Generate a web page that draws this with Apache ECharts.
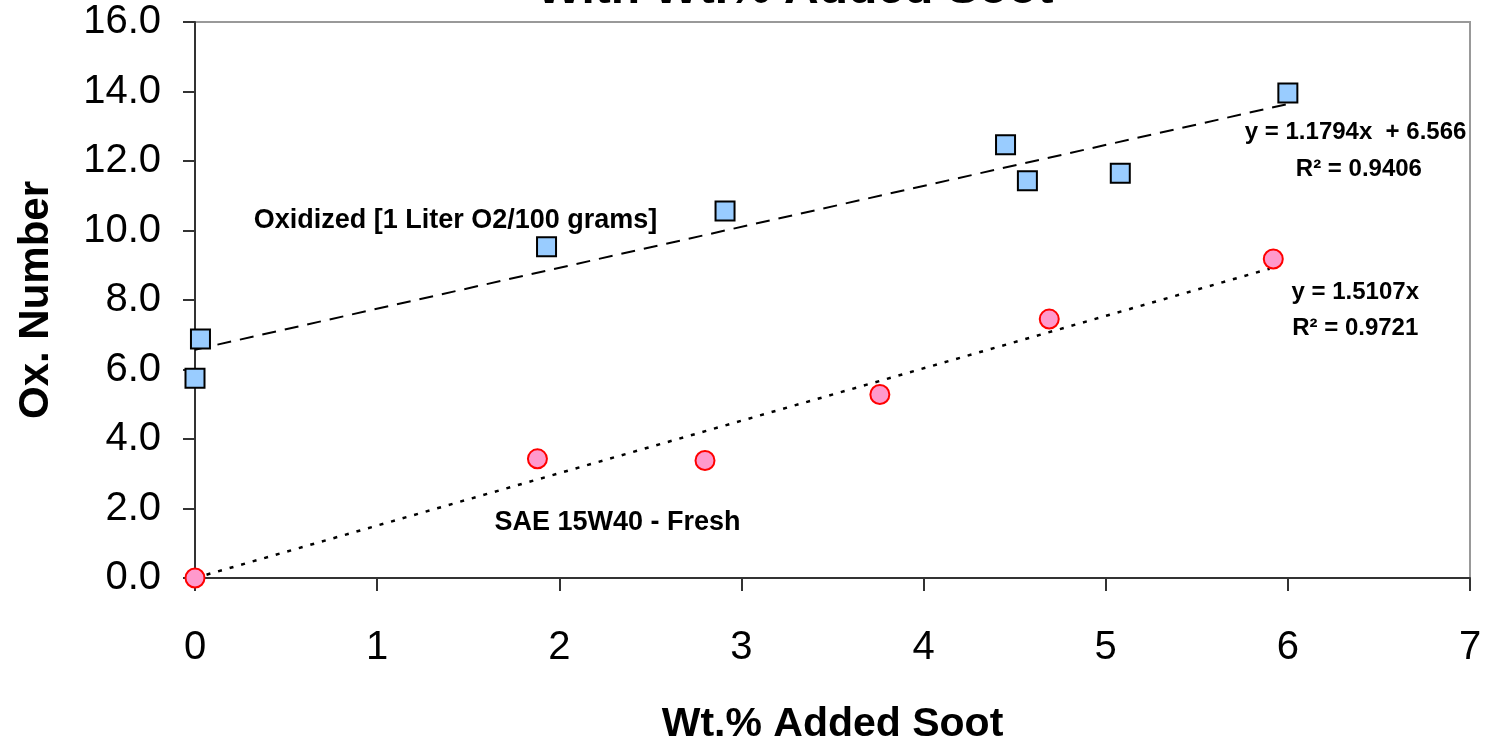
<!DOCTYPE html>
<html>
<head>
<meta charset="utf-8">
<script src="https://cdn.jsdelivr.net/npm/echarts@6/dist/echarts.min.js"></script>
<style>
  html, body { margin: 0; padding: 0; background: #fff; }
  #chart { width: 1490px; height: 745px; }
</style>
</head>
<body>
<div id="chart"></div>
<script>
'use strict';

// Oxidized oil samples (blue squares)
const oxidizedPoints = [
  [0.0, 5.75], [0.03, 6.88], [1.93, 9.53], [2.91, 10.56],
  [4.45, 12.47], [4.57, 11.43], [5.08, 11.65], [6.0, 13.96]
];
// Fresh SAE 15W40 samples (pink circles)
const freshPoints = [
  [0.0, 0.0], [1.88, 3.43], [2.8, 3.38], [3.76, 5.28], [4.69, 7.45], [5.92, 9.18]
];
// trendline endpoints
const oxidizedTrend = [[0.0, 6.57], [6.0, 13.64]];
const freshTrend = [[0.0, 0.0], [5.9, 8.9]];

// text annotations: [x, y, text, align, fontSize]
const annotations = [
  [1.43, 10.3, 'Oxidized [1 Liter O2/100 grams]', 'center', 27],
  [2.32, 1.6, 'SAE 15W40 - Fresh', 'center', 27],
  [6.98, 12.81, 'y = 1.1794x  + 6.566', 'right', 24],
  [6.39, 11.77, 'R² = 0.9406', 'center', 24],
  [6.37, 8.23, 'y = 1.5107x', 'center', 24],
  [6.37, 7.19, 'R² = 0.9721', 'center', 24]
];

const FONT = 'Liberation Sans, Arial, sans-serif';

const chart = echarts.init(document.getElementById('chart'));

chart.setOption({
  backgroundColor: '#fff',
  animation: false,
  graphic: [{
    type: 'text',
    x: 795,
    y: 14,
    style: {
      text: 'With Wt.% Added Soot',
      font: 'bold 48px ' + FONT,
      fill: '#000',
      align: 'center',
      verticalAlign: 'bottom'
    }
  }],
  grid: {
    left: 195, right: 20, top: 22, bottom: 167,
    containLabel: false,
    outerBoundsMode: 'none',
    show: true, borderColor: '#999', borderWidth: 2, backgroundColor: '#fff'
  },
  xAxis: {
    type: 'value',
    min: 0, max: 7, interval: 1,
    name: 'Wt.% Added Soot',
    nameLocation: 'middle',
    nameGap: 126,
    nameTextStyle: { fontFamily: FONT, fontSize: 41, fontWeight: 'bold', color: '#000' },
    axisLine: { show: true, onZero: false, lineStyle: { color: '#333', width: 2 } },
    axisTick: { show: true, inside: false, length: 13, lineStyle: { color: '#333', width: 2 } },
    axisLabel: { fontFamily: FONT, fontSize: 40, color: '#000', margin: 50 },
    splitLine: { show: false }
  },
  yAxis: {
    type: 'value',
    min: 0, max: 16, interval: 2,
    name: 'Ox. Number',
    nameLocation: 'middle',
    nameGap: 138,
    nameTextStyle: { fontFamily: FONT, fontSize: 42, fontWeight: 'bold', color: '#000' },
    axisLine: { show: true, onZero: false, lineStyle: { color: '#333', width: 2 } },
    axisTick: { show: true, inside: false, length: 12, lineStyle: { color: '#333', width: 2 } },
    axisLabel: {
      fontFamily: FONT, fontSize: 40, color: '#000', margin: 34,
      formatter: (v) => v.toFixed(1)
    },
    splitLine: { show: false }
  },
  series: [
    {
      name: 'oxidized trend',
      type: 'line',
      data: oxidizedTrend,
      symbol: 'none',
      lineStyle: { color: '#000', width: 2, type: [14, 9] },
      z: 2
    },
    {
      name: 'fresh trend',
      type: 'line',
      data: freshTrend,
      symbol: 'none',
      lineStyle: { color: '#000', width: 2.5, type: [4, 8] },
      z: 2
    },
    {
      name: 'Oxidized',
      type: 'scatter',
      data: oxidizedPoints,
      symbol: 'rect',
      symbolSize: 19,
      itemStyle: { color: '#99CCFF', borderColor: '#000', borderWidth: 2, opacity: 1 },
      z: 3
    },
    {
      name: 'Fresh',
      type: 'scatter',
      data: freshPoints,
      symbol: 'circle',
      symbolSize: 19,
      itemStyle: { color: '#FF99CC', borderColor: '#FF0000', borderWidth: 2, opacity: 1 },
      z: 3
    },
    {
      name: 'annotations',
      type: 'scatter',
      symbolSize: 0,
      silent: true,
      itemStyle: { color: '#000', opacity: 1 },
      label: {
        show: true,
        position: 'inside',
        fontFamily: FONT,
        fontWeight: 'bold',
        color: '#000',
        textBorderWidth: 0
      },
      data: annotations.map((a) => ({
        value: [a[0], a[1]],
        label: {
          formatter: a[2],
          align: a[3],
          fontSize: a[4],
          color: '#000'
        }
      })),
      z: 4
    }
  ]
});
</script>
</body>
</html>
